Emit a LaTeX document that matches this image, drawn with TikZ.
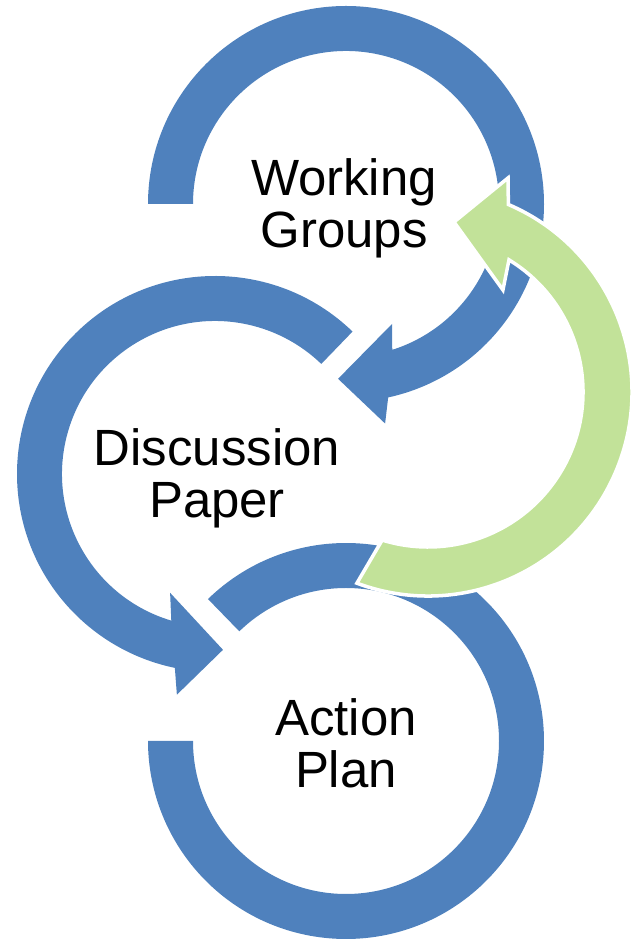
\documentclass[tikz,border=0pt]{standalone}
\usepackage{fontspec}
\setmainfont{Liberation Sans}
\usetikzlibrary{calc}
\definecolor{ringblue}{RGB}{79,129,189}
\definecolor{ringgreen}{RGB}{194,226,153}
\begin{document}
\begin{tikzpicture}[x=0.02cm,y=0.02cm,
  bluearrow/.style={fill=ringblue},
  greenarrow/.style={fill=ringgreen,draw=white,line width=2pt,line join=miter},
  ringtext/.style={font=\fontsize{29}{29.5}\selectfont,align=center,inner sep=0pt,text=black}]
\useasboundingbox (0,0) rectangle (642,940);
\coordinate (C1) at (346,736);
\coordinate (C2) at (215,466);
\coordinate (C3) at (346,199);
\coordinate (G) at (428,548);
% ring 3 (Action Plan)
\path[bluearrow] ($(C3)+(134.2:198)$) arc[start angle=134.2,end angle=-180,radius=198]
  -- ($(C3)+(180:153)$) arc[start angle=-180,end angle=134.2,radius=153] -- cycle;
% ring 2 (Discussion Paper)
\path[bluearrow] ($(C2)+(46:198)$) arc[start angle=46,end angle=258.3,radius=198]
  -- ($(C2)+(260.2:224)$) -- ($(C2)+(272.6:176)$) -- ($(C2)+(249.3:127)$)
  -- ($(C2)+(253.4:153)$) arc[start angle=253.4,end angle=46,radius=153] -- cycle;
% ring 1 (Working Groups)
\path[bluearrow] ($(C1)+(180:198)$) arc[start angle=180,end angle=-77.7,radius=198]
  -- ($(C1)+(-79.9:223)$) -- ($(C1)+(-92.6:175)$) -- ($(C1)+(-69:128.5)$)
  -- ($(C1)+(-72.4:153)$) arc[start angle=-72.4,end angle=180,radius=153] -- cycle;
% green return arrow
\path[greenarrow] ($(G)+(249.6:204)$) arc[start angle=249.6,end angle=426.8,radius=204]
  -- ($(G)+(69.5:228.5)$) -- ($(G)+(81.3:172)$) -- ($(G)+(53.7:126.6)$)
  -- ($(G)+(58.5:155)$) arc[start angle=418.5,end angle=252.8,radius=155] -- cycle;
% texts
\node[ringtext] (wg) at (344,732) {Working\\Groups};
\node[ringtext] (dp) at (217,462) {Discussion\\Paper};
\node[ringtext] (ap) at (346,197) {Action\\Plan};
\end{tikzpicture}
\end{document}
